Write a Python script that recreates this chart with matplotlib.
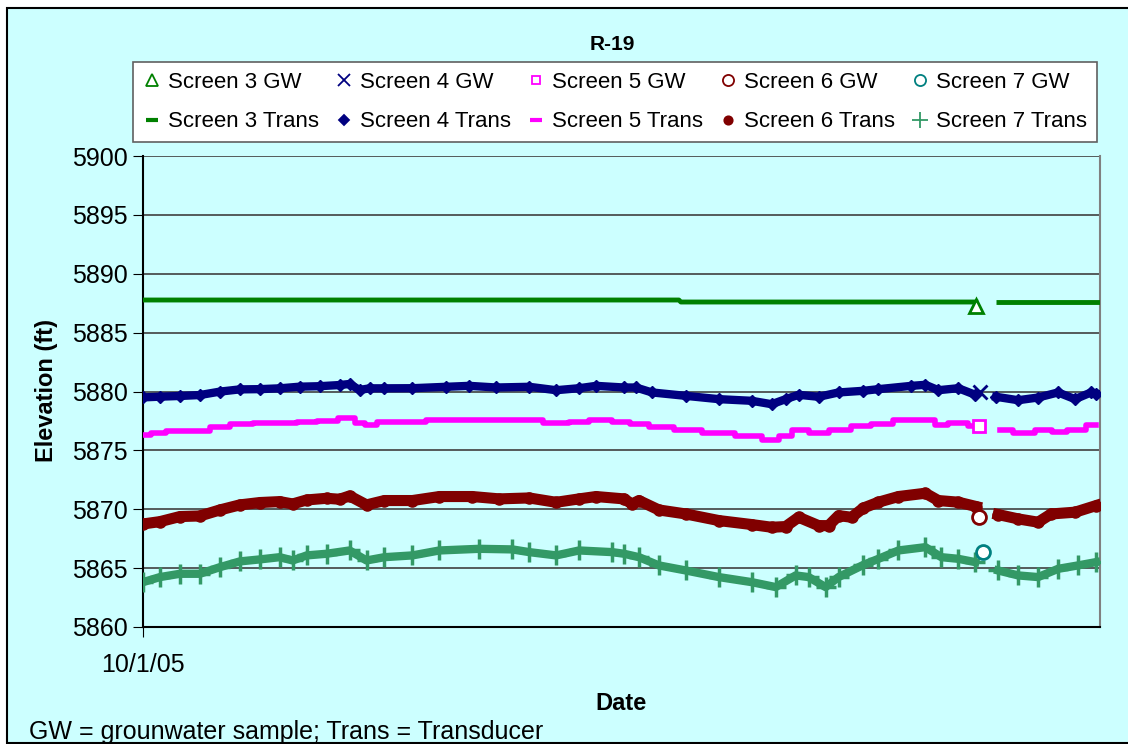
import matplotlib
matplotlib.use("Agg")
import matplotlib.pyplot as plt
from matplotlib.lines import Line2D
from matplotlib.patches import Rectangle
import numpy as np

plt.rcParams['font.family'] = ['Liberation Sans', 'DejaVu Sans']

# days after 10/1/05, values in ft
s3_days_a = [0, 537, 539, 837]
s3_vals_a = [5887.77, 5887.77, 5887.60, 5887.60]
s3_days_b = [855, 959]
s3_vals_b = [5887.60, 5887.60]

s4_days_a = [0, 17, 37, 57, 77, 97, 117, 137, 157, 177, 197, 207, 217, 227, 242,
             270, 304, 327, 354, 387, 414, 437, 454, 482,
             494, 510, 544, 577, 610, 630, 644, 657, 677, 697, 722,
             737, 770, 784, 797, 817, 834]
s4_vals_a = [5879.50, 5879.56, 5879.62, 5879.70, 5879.99, 5880.18, 5880.20, 5880.27, 5880.41, 5880.45,
             5880.55, 5880.64, 5880.13, 5880.27, 5880.27,
             5880.28, 5880.40, 5880.48, 5880.34, 5880.40, 5880.11, 5880.28, 5880.48, 5880.34,
             5880.34, 5879.92, 5879.63, 5879.35, 5879.21, 5878.92, 5879.35, 5879.72, 5879.55, 5879.92, 5880.06,
             5880.20, 5880.48, 5880.57, 5880.11, 5880.28, 5879.72]
s4_days_b = [855, 877, 897, 917, 934, 950, 955]
s4_vals_b = [5879.55, 5879.26, 5879.49, 5879.92, 5879.35, 5879.92, 5879.83]

s5_days_a = [0, 17, 30, 57, 77, 97, 124, 144, 164, 184, 207, 217, 227, 242,
             270, 297, 337, 354, 384, 417, 437, 457, 482,
             494, 520, 544, 577, 610, 630, 644, 657, 677, 697, 722,
             737, 767, 790, 797, 817, 837]
s5_vals_a = [5876.30, 5876.50, 5876.67, 5876.67, 5877.01, 5877.21, 5877.35, 5877.30, 5877.44, 5877.52,
             5877.72, 5877.29, 5877.15, 5877.38,
             5877.45, 5877.58, 5877.58, 5877.58, 5877.58, 5877.32, 5877.45, 5877.58, 5877.45,
             5877.27, 5876.98, 5876.76, 5876.47, 5876.19, 5875.85, 5876.19, 5876.70, 5876.47, 5876.70, 5877.04,
             5877.21, 5877.61, 5877.61, 5877.12, 5877.32, 5877.04]
s5_days_b = [859, 884, 904, 917, 934, 955]
s5_vals_b = [5876.70, 5876.47, 5876.76, 5876.56, 5876.70, 5877.12]

s6_days_a = [0, 17, 37, 57, 77, 97, 117, 137, 150, 164, 184, 197, 207, 224, 242,
             270, 297, 330, 357, 387, 414, 437, 454, 482,
             490, 497, 517, 544, 577, 610, 630, 644, 657, 677, 687, 697, 710, 722,
             737, 757, 784, 797, 817, 835]
s6_vals_a = [5868.75, 5868.95, 5869.38, 5869.43, 5869.94, 5870.37, 5870.57, 5870.65, 5870.45, 5870.79,
             5870.93, 5870.85, 5871.13, 5870.37, 5870.74,
             5870.74, 5871.08, 5871.08, 5870.88, 5870.96, 5870.59, 5870.88, 5871.08, 5870.88,
             5870.45, 5870.74, 5869.94, 5869.60, 5869.04, 5868.70, 5868.47, 5868.53, 5869.32, 5868.61, 5868.61,
             5869.46, 5869.32, 5870.11,
             5870.60, 5871.08, 5871.36, 5870.74, 5870.60, 5870.23]
s6_days_b = [857, 877, 897, 910, 934, 955]
s6_vals_b = [5869.55, 5869.18, 5868.90, 5869.60, 5869.75, 5870.31]

s7_days_a = [0, 17, 37, 57, 77, 97, 117, 137, 150, 164, 184, 207, 224, 242,
             270, 297, 337, 370, 387, 414, 437, 470, 482,
             497, 517, 544, 577, 610, 634, 654, 667, 684, 697, 722,
             737, 757, 784, 800, 817, 834]
s7_vals_a = [5863.81, 5864.24, 5864.52, 5864.52, 5865.08, 5865.57, 5865.74, 5865.93, 5865.65, 5866.08,
             5866.22, 5866.50, 5865.65, 5865.93,
             5866.08, 5866.50, 5866.64, 5866.59, 5866.36, 5866.08, 5866.50, 5866.36, 5866.22,
             5865.93, 5865.23, 5864.80, 5864.24, 5863.81, 5863.39, 5864.38, 5864.24, 5863.39, 5864.24, 5865.28,
             5865.79, 5866.50, 5866.78, 5865.93, 5865.79, 5865.51]
s7_days_b = [857, 877, 897, 917, 937, 955]
s7_vals_b = [5864.80, 5864.38, 5864.24, 5864.94, 5865.23, 5865.51]

# groundwater samples
gw_days = [835, 839, 838, 838, 842]
gw_vals = [5887.26, 5880.00, 5877.07, 5869.30, 5866.37]

c3, c4, c5, c6 = '#008000', '#000080', '#FF00FF', '#800000'
c7gw, c7 = '#008080', '#339966'
bg = '#CCFFFF'

fig = plt.figure(figsize=(11.28, 7.44), dpi=100, facecolor='white')
fig.patches.append(Rectangle((7/1128, 1/744), 1.2, 735/744, transform=fig.transFigure,
                             facecolor=bg, edgecolor='black', lw=1.5, zorder=-5))
ax = fig.add_axes([143/1128, 1-627/744, 957/1128, 471/744])
ax.set_facecolor(bg)

for d, v in [(s3_days_a, s3_vals_a), (s3_days_b, s3_vals_b)]:
    ax.plot(d, v, color=c3, lw=3.5, solid_capstyle='butt', zorder=3)
for d, v in [(s4_days_a, s4_vals_a), (s4_days_b, s4_vals_b)]:
    ax.plot(d, v, color=c4, lw=6, marker='D', ms=6, zorder=3)
for d, v in [(s5_days_a, s5_vals_a), (s5_days_b, s5_vals_b)]:
    ax.plot(d, v, color=c5, lw=4, drawstyle='steps-mid', zorder=3)
for d, v in [(s6_days_a, s6_vals_a), (s6_days_b, s6_vals_b)]:
    ax.plot(d, v, color=c6, lw=8, marker='o', ms=8, zorder=3)
for d, v in [(s7_days_a, s7_vals_a), (s7_days_b, s7_vals_b)]:
    ax.plot(d, v, color=c7, lw=6, marker='+', ms=14, mew=2.5, zorder=3)

gw_style = [('^', c3), ('x', c4), ('s', c5), ('o', c6), ('o', c7gw)]
for (m, c), d, v in zip(gw_style, gw_days, gw_vals):
    ax.plot(d, v, marker=m, ls='none', ms=10 if m != 's' else 8, mfc='white' if m != 'x' else c,
            mec=c, mew=2, zorder=4)

ax.set_xlim(0, 959)
ax.set_ylim(5860, 5900)
ax.set_yticks(np.arange(5860, 5901, 5))
ax.set_xticks([0])
ax.set_xticklabels(['10/1/05'])
ax.tick_params(axis='both', labelsize=18, direction='out', length=7, color='black', pad=4)
ax.tick_params(axis='x', pad=12)
ax.grid(axis='y', color='#404040', lw=1.2)
ax.set_axisbelow(True)
ax.spines['left'].set_color('black')
ax.spines['bottom'].set_color('black')
ax.spines['right'].set_color('#808080')
ax.spines['top'].set_visible(False)
for s in ax.spines.values():
    s.set_linewidth(1.5)

fig.text(47/1128, 1-390/744, 'Elevation (ft)', rotation=90, ha='center', va='center',
         fontsize=17, fontweight='bold')
fig.text(621/1128, 1-703/744, 'Date', ha='center', va='center', fontsize=17, fontweight='bold')
fig.text(612/1128, 1-45/744, 'R-19', ha='center', va='center', fontsize=15, fontweight='bold')
fig.text(29/1128, 5/744, 'GW = grounwater sample; Trans = Transducer', ha='left', va='baseline',
         fontsize=18)

handles, labels = [], []
trans_style = [('_', c3, 8), ('D', c4, 5), ('_', c5, 8), ('o', c6, 6), ('+', c7, 11)]
for i in range(5):
    m, c = gw_style[i]
    handles.append(Line2D([], [], ls='none', marker=m, ms=8 if m != 's' else 6,
                          mfc='none', mec=c, mew=1.3))
    labels.append('Screen %d GW' % (i + 3))
    m, c, s = trans_style[i]
    handles.append(Line2D([], [], ls='none', marker=m, ms=s, color=c, mec=c, mew=3 if m == '_' else 1.3))
    labels.append('Screen %d Trans' % (i + 3))
leg = fig.legend(handles, labels, ncol=5, loc='center', bbox_to_anchor=(615/1128, 1-102/744),
                 fontsize=16, frameon=True, fancybox=False, edgecolor='#606060', facecolor='white',
                 framealpha=1, handlelength=0.8, handletextpad=0.3, columnspacing=0.75,
                 borderpad=0.45, labelspacing=0.85)
leg.get_frame().set_linewidth(1.2)

fig.savefig('out.png', dpi=100, facecolor='white')
